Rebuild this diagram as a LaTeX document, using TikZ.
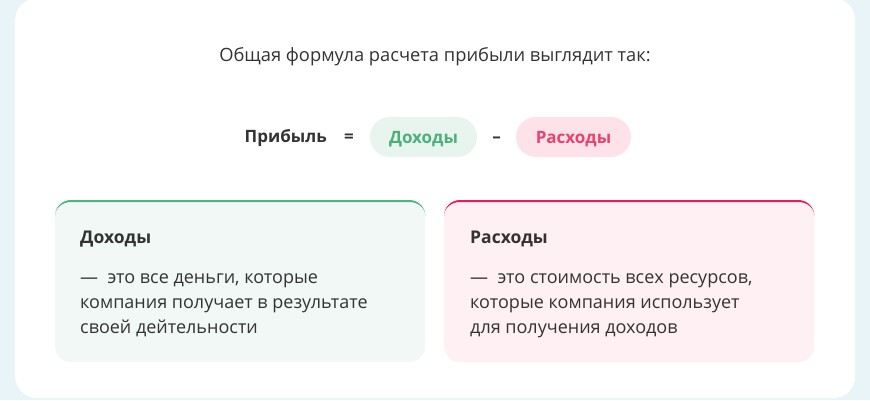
\documentclass[tikz,border=0pt]{standalone}
\usepackage{fontspec}
\setmainfont{Open Sans}
\definecolor{pagebg}{HTML}{E8F4F7}
\definecolor{txt}{HTML}{333333}
\definecolor{grn}{HTML}{4DAF7C}
\definecolor{grnline}{HTML}{4DB57F}
\definecolor{grnpill}{HTML}{E7F5EE}
\definecolor{grncard}{HTML}{F1F8F5}
\definecolor{pnk}{HTML}{E8436E}
\definecolor{pnkpill}{HTML}{FDE3E9}
\definecolor{pnkcard}{HTML}{FEF0F3}
\definecolor{pnkline}{HTML}{E91E56}
\tikzset{
  pill/.style={rounded corners=20pt, minimum height=40pt, inner sep=0pt, text height=12pt, text depth=0pt, font=\fontsize{17}{20}\selectfont\bfseries},
  infocard/.style={rounded corners=16pt, minimum width=370pt, minimum height=162pt, inner sep=0pt, anchor=north west},
  cardtitle/.style={anchor=base west, inner sep=0pt, text=txt, font=\fontsize{17.5}{20}\selectfont\bfseries},
  cardline/.style={anchor=base west, inner sep=0pt, text=txt, font=\fontsize{18}{20}\selectfont},
  formula/.style={anchor=base, inner sep=0pt, text=txt, font=\fontsize{17}{20}\selectfont\bfseries},
}
\newcommand{\topborder}[2]{%
  \fill[#2] ([yshift=-16pt]#1.north west) arc[start angle=180, end angle=90, radius=16pt]
    -- ([xshift=-16pt]#1.north east) arc[start angle=90, end angle=0, radius=16pt]
    arc[start angle=0, end angle=90, x radius=16pt, y radius=14pt]
    -- ([xshift=16pt,yshift=-2pt]#1.north west) arc[start angle=90, end angle=180, x radius=16pt, y radius=14pt] -- cycle;}
\begin{document}
\begin{tikzpicture}[x=1pt,y=1pt]
\useasboundingbox (0,0) rectangle (870,400);
\fill[pagebg] (0,0) rectangle (870,400);
\node[fill=white, rounded corners=22pt, minimum width=840pt, minimum height=400pt, inner sep=0pt, anchor=north west] (main) at (15,402) {};
\node[anchor=base, inner sep=0pt, text=txt, font=\fontsize{18.3}{20}\selectfont] (head) at (435,338) {Общая формула расчета прибыли выглядит так:};
\node[formula, anchor=base east] (profit) at (327,258) {Прибыль};
\node[formula] (eq) at (349,258) {=};
\node[pill, fill=grnpill, text=grn, minimum width=107pt] (inc) at (423.5,263) {Доходы};
\node[formula] (minus) at (496.5,258) {–};
\node[pill, fill=pnkpill, text=pnk, minimum width=115pt] (exp) at (573.5,263) {Расходы};
% cards
\node[infocard, fill=grncard] (lcard) at (55,200) {};
\node[infocard, fill=pnkcard] (rcard) at (444,200) {};
\topborder{lcard}{grnline}
\topborder{rcard}{pnkline}
\node[cardtitle] (ltitle) at (80,157) {Доходы};
\node[cardline] (lb1) at (80,117) {—\ \ это все деньги, которые};
\node[cardline] (lb2) at (80,92) {компания получает в результате};
\node[cardline] (lb3) at (80,67) {своей дейтельности};
\node[cardtitle] (rtitle) at (470,157) {Расходы};
\node[cardline] (rb1) at (470,117) {—\ \ это стоимость всех ресурсов,};
\node[cardline] (rb2) at (470,92) {которые компания использует};
\node[cardline] (rb3) at (470,67) {для получения доходов};
\end{tikzpicture}
\end{document}
